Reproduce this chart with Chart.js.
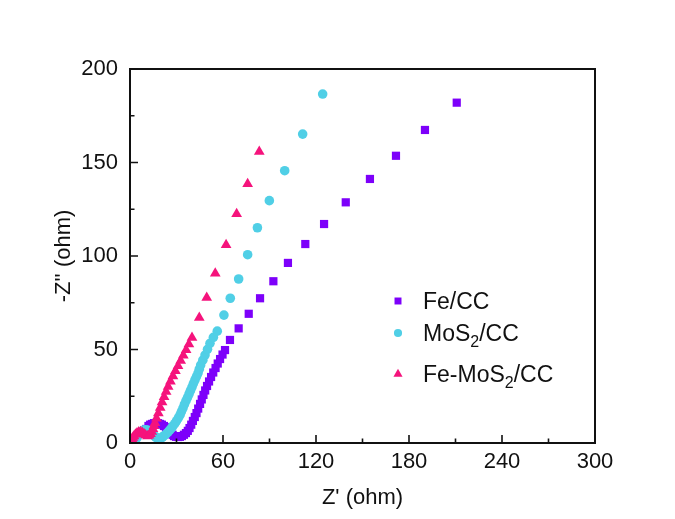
<!DOCTYPE html>
<html>
<head>
<meta charset="utf-8">
<script src="https://cdn.jsdelivr.net/npm/chart.js@4.4.0/dist/chart.umd.min.js"></script>
<style>
  html, body { margin: 0; padding: 0; background: #fff; }
  #wrap { width: 675px; height: 519px; }
</style>
</head>
<body>
<div id="wrap"><canvas id="nyquist" width="675" height="519"></canvas></div>
<script>
  // Nyquist plots, Z' vs -Z'' in ohm, ordered from high to low frequency
  const feCcRe = [10.5, 11.9, 13.0, 14.2, 15.5, 16.8, 18.1, 19.4, 20.6, 21.9, 23.2, 24.5, 25.5, 26.5, 27.5, 28.4,
                  29.7, 31.0, 32.2, 33.5, 34.8, 36.1, 37.3, 38.4, 39.5, 40.6, 41.8, 42.9, 44.0, 45.2, 46.3, 47.4,
                  48.5, 49.7, 51.0, 52.3, 53.7, 55.2, 56.6, 58.1, 59.7, 61.3, 64.5, 70.1, 76.6, 83.9, 92.5,
                  101.9, 113.1, 125.2, 139.2, 154.8, 171.6, 190.3, 210.8];
  const feCcIm = [7.5, 9.1, 9.8, 10.2, 10.6, 10.7, 10.6, 10.2, 9.8, 9.1, 8.4, 7.5, 6.4, 5.3, 4.4, 3.7,
                  3.3, 3.2, 3.3, 3.7, 4.4, 5.3, 6.5, 8.0, 9.8, 11.8, 13.9, 16.0, 18.4, 20.9, 23.3, 25.7,
                  28.1, 30.5, 32.9, 35.3, 37.7, 40.1, 42.5, 44.9, 47.3, 49.7, 55.1, 61.3, 69.1, 77.4, 86.5,
                  96.3, 106.4, 117.1, 128.7, 141.2, 153.6, 167.4, 182.0];

  const mos2CcRe = [4.5, 5.8, 6.8, 7.7, 8.9, 10.0, 11.2, 12.3, 13.4, 14.5, 15.5, 16.5, 17.6, 18.7, 19.9, 21.0,
                    22.1, 23.2, 24.4, 25.5, 26.6, 27.7, 28.9, 30.0, 31.2, 32.3, 33.2, 34.2, 35.1, 36.1, 37.1,
                    38.1, 39.0, 40.0, 40.9, 41.9, 42.9, 43.9, 44.7, 45.6, 47.0, 48.4, 50.0, 51.6, 53.8, 56.3,
                    60.6, 64.7, 70.1, 75.9, 82.2, 89.9, 99.8, 111.4, 124.3];
  const mos2CcIm = [2.7, 4.8, 5.8, 6.4, 6.9, 7.0, 6.9, 6.4, 5.7, 4.8, 4.0, 3.2, 2.5, 2.1, 2.5, 3.2,
                    3.9, 4.8, 5.7, 6.7, 7.8, 9.1, 10.4, 11.8, 13.4, 15.0, 16.8, 18.7, 20.6, 22.5, 24.3,
                    26.2, 28.0, 29.9, 31.8, 33.7, 35.5, 37.4, 39.5, 41.7, 44.3, 47.0, 50.1, 53.3, 56.5, 59.8,
                    68.4, 77.4, 87.7, 100.7, 115.1, 129.6, 145.6, 165.2, 186.6];

  const feMos2CcRe = [1.3, 1.9, 2.6, 3.5, 4.5, 5.6, 6.8, 7.9, 9.0, 10.1, 11.3, 12.3, 13.2, 14.0, 14.8, 15.5,
                      16.1, 17.1, 18.3, 19.5, 20.7, 22.0, 23.3, 24.6, 26.1, 27.7, 29.3, 31.0, 32.7, 34.4,
                      36.2, 38.0, 40.0, 44.7, 49.5, 55.0, 62.0, 68.8, 75.9, 83.4];
  const feMos2CcIm = [2.1, 2.9, 3.7, 4.6, 5.3, 5.8, 5.9, 5.5, 4.8, 4.2, 3.7, 4.1, 4.8, 6.1, 7.5, 9.1,
                      10.7, 13.2, 16.0, 18.9, 21.8, 24.6, 27.4, 30.2, 33.0, 35.8, 38.5, 41.2, 44.0, 46.8,
                      49.8, 52.9, 56.3, 67.0, 77.7, 90.7, 105.9, 122.5, 138.5, 155.8];

  const seriesNames = ["Fe/CC", "MoS2/CC", "Fe-MoS2/CC"];
  const xTicks = [0, 60, 120, 180, 240, 300];
  const yTicks = [0, 50, 100, 150, 200];

  const COLORS = ["#7d00fa", "#50cfe6", "#f5137c"];
  const STYLES = ["rect", "circle", "triangle"];
  const RADII = [5.8, 4.8, 6.2];
  const FONT = "'Liberation Sans', Arial, Helvetica, sans-serif";
  const INK = "#111";

  const toPoints = (xs, ys) => xs.map((x, i) => ({ x, y: ys[i] }));

  function makeSet(i, xs, ys) {
    return {
      label: seriesNames[i],
      data: toPoints(xs, ys),
      showLine: false,
      pointStyle: STYLES[i],
      pointRadius: RADII[i],
      pointHoverRadius: RADII[i],
      pointBackgroundColor: COLORS[i],
      pointBorderColor: COLORS[i],
      pointBorderWidth: 0,
      order: 3 - i, // later series sit on top
    };
  }

  // closed frame + inward major/minor ticks on the bottom and left edges
  const frameTicks = {
    id: "frameTicks",
    afterDraw(chart) {
      const { ctx, chartArea: a, scales } = chart;
      ctx.save();
      ctx.strokeStyle = INK;
      ctx.lineWidth = 2;
      ctx.strokeRect(a.left, a.top, a.right - a.left, a.bottom - a.top);
      ctx.lineWidth = 1.6;
      ctx.beginPath();
      xTicks.forEach((v, i) => {
        const px = scales.x.getPixelForValue(v);
        ctx.moveTo(px, a.bottom); ctx.lineTo(px, a.bottom - 8);
        if (i < xTicks.length - 1) {
          const mx = scales.x.getPixelForValue((v + xTicks[i + 1]) / 2);
          ctx.moveTo(mx, a.bottom); ctx.lineTo(mx, a.bottom - 4.5);
        }
      });
      yTicks.forEach((v, i) => {
        const py = scales.y.getPixelForValue(v);
        ctx.moveTo(a.left, py); ctx.lineTo(a.left + 8, py);
        if (i < yTicks.length - 1) {
          const my = scales.y.getPixelForValue((v + yTicks[i + 1]) / 2);
          ctx.moveTo(a.left, my); ctx.lineTo(a.left + 4.5, my);
        }
      });
      ctx.stroke();
      ctx.restore();
    }
  };

  // text with the digits in a chemical formula set as subscripts
  function drawFormula(ctx, text, x, y, size) {
    let cx = x;
    text.split(/(\d+)/).forEach((part, k) => {
      if (!part) return;
      const sub = k % 2 === 1;
      ctx.font = (sub ? Math.round(size * 0.68) : size) + "px " + FONT;
      ctx.fillText(part, cx, sub ? y + size * 0.28 : y);
      cx += ctx.measureText(part).width;
    });
  }

  function drawMarker(ctx, style, r, x, y) {
    ctx.beginPath();
    if (style === "rect") {
      const s = r * Math.SQRT1_2;
      ctx.rect(x - s, y - s, 2 * s, 2 * s);
    } else if (style === "circle") {
      ctx.arc(x, y, r, 0, Math.PI * 2);
    } else {
      ctx.moveTo(x, y - r);
      ctx.lineTo(x + r * 0.866, y + r * 0.5);
      ctx.lineTo(x - r * 0.866, y + r * 0.5);
      ctx.closePath();
    }
    ctx.fill();
  }

  const formulaLegend = {
    id: "formulaLegend",
    afterDraw(chart) {
      const ctx = chart.ctx;
      const rows = [301, 333, 374];
      ctx.save();
      ctx.textBaseline = "alphabetic";
      chart.data.datasets.forEach((ds, i) => {
        ctx.fillStyle = ds.pointBackgroundColor;
        drawMarker(ctx, ds.pointStyle, ds.pointRadius * 0.85, 398, rows[i]);
        ctx.fillStyle = INK;
        drawFormula(ctx, ds.label, 423, rows[i] + 8, 23);
      });
      ctx.restore();
    }
  };

  new Chart(document.getElementById("nyquist"), {
    type: "scatter",
    data: {
      datasets: [
        makeSet(0, feCcRe, feCcIm),
        makeSet(1, mos2CcRe, mos2CcIm),
        makeSet(2, feMos2CcRe, feMos2CcIm),
      ]
    },
    options: {
      responsive: false,
      animation: false,
      events: [],
      layout: { padding: { left: 0, right: 80, top: 69, bottom: 0 } },
      plugins: { legend: { display: false }, tooltip: { enabled: false } },
      scales: {
        x: {
          type: "linear", min: 0, max: 300,
          afterBuildTicks: s => { s.ticks = xTicks.map(v => ({ value: v })); },
          afterFit: s => { s.height = 76; },
          grid: { display: false, drawTicks: false },
          border: { display: false },
          ticks: { color: INK, padding: 6, font: { family: FONT, size: 22 } },
          title: { display: true, text: "Z' (ohm)", color: INK, padding: { top: 0, bottom: 8 },
                   font: { family: FONT, size: 22 } }
        },
        y: {
          type: "linear", min: 0, max: 200,
          afterBuildTicks: s => { s.ticks = yTicks.map(v => ({ value: v })); },
          afterFit: s => { s.width = 130; },
          grid: { display: false, drawTicks: false },
          border: { display: false },
          ticks: { color: INK, padding: 12, font: { family: FONT, size: 22 } },
          title: { display: true, text: "-Z'' (ohm)", color: INK, padding: { top: 51, bottom: 0 },
                   font: { family: FONT, size: 22 } }
        }
      }
    },
    plugins: [frameTicks, formulaLegend]
  });
</script>
</body>
</html>
